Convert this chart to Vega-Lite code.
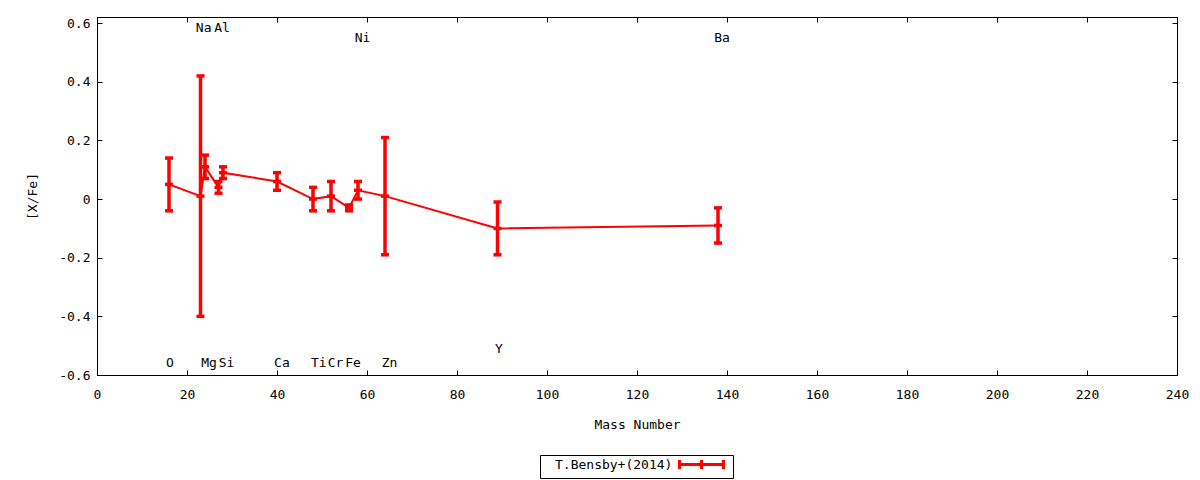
{
  "$schema": "https://vega.github.io/schema/vega-lite/v6.json",
  "width": 1080,
  "height": 358,
  "autosize": "none",
  "padding": {"left": 97, "top": 17, "right": 23, "bottom": 105},
  "background": "white",
  "datasets": {
    "abund": [
      {"el": "O", "mass": 16, "val": 0.05, "lo": -0.04, "hi": 0.14, "series": "T.Bensby+(2014)"},
      {"el": "Na", "mass": 23, "val": 0.01, "lo": -0.40, "hi": 0.42, "series": "T.Bensby+(2014)"},
      {"el": "Mg", "mass": 24, "val": 0.11, "lo": 0.07, "hi": 0.15, "series": "T.Bensby+(2014)"},
      {"el": "Al", "mass": 27, "val": 0.04, "lo": 0.02, "hi": 0.06, "series": "T.Bensby+(2014)"},
      {"el": "Si", "mass": 28, "val": 0.09, "lo": 0.07, "hi": 0.11, "series": "T.Bensby+(2014)"},
      {"el": "Ca", "mass": 40, "val": 0.06, "lo": 0.03, "hi": 0.09, "series": "T.Bensby+(2014)"},
      {"el": "Ti", "mass": 48, "val": 0.00, "lo": -0.04, "hi": 0.04, "series": "T.Bensby+(2014)"},
      {"el": "Cr", "mass": 52, "val": 0.01, "lo": -0.04, "hi": 0.06, "series": "T.Bensby+(2014)"},
      {"el": "Fe", "mass": 56, "val": -0.03, "lo": -0.04, "hi": -0.02, "series": "T.Bensby+(2014)"},
      {"el": "Ni", "mass": 58, "val": 0.03, "lo": 0.00, "hi": 0.06, "series": "T.Bensby+(2014)"},
      {"el": "Zn", "mass": 64, "val": 0.01, "lo": -0.19, "hi": 0.21, "series": "T.Bensby+(2014)"},
      {"el": "Y", "mass": 89, "val": -0.10, "lo": -0.19, "hi": -0.01, "series": "T.Bensby+(2014)"},
      {"el": "Ba", "mass": 138, "val": -0.09, "lo": -0.15, "hi": -0.03, "series": "T.Bensby+(2014)"}
    ],
    "names": [
      {"el": "O", "lx": 16.2, "ly": -0.56},
      {"el": "Na", "lx": 23.7, "ly": 0.585},
      {"el": "Mg", "lx": 24.9, "ly": -0.56},
      {"el": "Al", "lx": 27.8, "ly": 0.585},
      {"el": "Si", "lx": 28.8, "ly": -0.56},
      {"el": "Ca", "lx": 41.1, "ly": -0.56},
      {"el": "Ti", "lx": 49.3, "ly": -0.56},
      {"el": "Cr", "lx": 53.0, "ly": -0.56},
      {"el": "Fe", "lx": 56.9, "ly": -0.56},
      {"el": "Ni", "lx": 59.0, "ly": 0.55},
      {"el": "Zn", "lx": 65.0, "ly": -0.56},
      {"el": "Y", "lx": 89.3, "ly": -0.51},
      {"el": "Ba", "lx": 138.9, "ly": 0.55}
    ]
  },
  "layer": [
    {
      "data": {"name": "abund"},
      "mark": {"type": "line", "strokeWidth": 2, "clip": true},
      "encoding": {
        "x": {
          "field": "mass", "type": "quantitative",
          "scale": {"domain": [0, 240], "nice": false, "zero": false},
          "axis": {
            "orient": "bottom", "title": "Mass Number",
            "values": [0, 20, 40, 60, 80, 100, 120, 140, 160, 180, 200, 220, 240],
            "tickSize": -5, "labelPadding": 18, "titlePadding": 17, "labelFlush": false
          }
        },
        "y": {
          "field": "val", "type": "quantitative",
          "scale": {"domain": [-0.6, 0.621], "nice": false, "zero": false},
          "axis": {
            "orient": "left", "title": "[X/Fe]",
            "values": [-0.6, -0.4, -0.2, 0, 0.2, 0.4, 0.6],
            "format": ".1~f", "tickSize": -5, "labelPadding": 12, "titlePadding": 19, "labelFlush": false
          }
        },
        "stroke": {
          "field": "series", "type": "nominal",
          "scale": {"range": ["#ff0000"]},
          "legend": {
            "title": null, "orient": "none", "legendX": 443, "legendY": 438,
            "symbolType": "M-4.4,0H4.4M-4.4,-0.9V0.9M0,-0.9V0.9M4.4,-0.9V0.9",
            "symbolSize": 100, "symbolStrokeWidth": 3, "symbolStrokeColor": "#ff0000",
            "symbolOffset": 152, "labelOffset": -153,
            "strokeColor": "black", "padding": 3,
            "labelFont": "DejaVu Sans Mono", "labelFontSize": 13, "labelColor": "black"
          }
        }
      }
    },
    {
      "encoding": {
        "x": {"field": "mass", "type": "quantitative", "axis": {"orient": "top", "labels": false, "title": null, "tickSize": -5, "domain": false, "values": [0, 20, 40, 60, 80, 100, 120, 140, 160, 180, 200, 220, 240]}}
      },
      "layer": [
        {
          "data": {"name": "abund"},
          "mark": {"type": "rule", "color": "#ff0000", "strokeWidth": 3.5, "opacity": 1},
          "encoding": {
            "y": {"field": "lo", "type": "quantitative", "axis": {"orient": "right", "labels": false, "title": null, "tickSize": -5, "domain": false, "values": [-0.6, -0.4, -0.2, 0, 0.2, 0.4, 0.6]}},
            "y2": {"field": "hi"}
          }
        },
        {
          "data": {"name": "abund"},
          "mark": {"type": "tick", "color": "#ff0000", "orient": "horizontal", "size": 8, "thickness": 3.5, "opacity": 1},
          "encoding": {
            "y": {"field": "lo", "type": "quantitative", "axis": {"orient": "right", "labels": false, "title": null, "tickSize": -5, "domain": false, "values": [-0.6, -0.4, -0.2, 0, 0.2, 0.4, 0.6]}}
          }
        },
        {
          "data": {"name": "abund"},
          "mark": {"type": "tick", "color": "#ff0000", "orient": "horizontal", "size": 8, "thickness": 3.5, "opacity": 1},
          "encoding": {
            "y": {"field": "hi", "type": "quantitative", "axis": {"orient": "right", "labels": false, "title": null, "tickSize": -5, "domain": false, "values": [-0.6, -0.4, -0.2, 0, 0.2, 0.4, 0.6]}}
          }
        },
        {
          "data": {"name": "abund"},
          "mark": {"type": "tick", "color": "#ff0000", "orient": "horizontal", "size": 8, "thickness": 3.5, "opacity": 1},
          "encoding": {
            "y": {"field": "val", "type": "quantitative", "axis": {"orient": "right", "labels": false, "title": null, "tickSize": -5, "domain": false, "values": [-0.6, -0.4, -0.2, 0, 0.2, 0.4, 0.6]}}
          }
        },
        {
          "data": {"name": "names"},
          "mark": {"type": "text", "font": "DejaVu Sans Mono", "fontSize": 13, "color": "black", "align": "center", "baseline": "middle"},
          "encoding": {
            "x": {"field": "lx", "type": "quantitative", "axis": {"orient": "top", "labels": false, "title": null, "tickSize": -5, "domain": false, "values": [0, 20, 40, 60, 80, 100, 120, 140, 160, 180, 200, 220, 240]}},
            "y": {"field": "ly", "type": "quantitative", "axis": {"orient": "right", "labels": false, "title": null, "tickSize": -5, "domain": false, "values": [-0.6, -0.4, -0.2, 0, 0.2, 0.4, 0.6]}},
            "text": {"field": "el"}
          }
        }
      ]
    }
  ],
  "resolve": {"axis": {"x": "independent", "y": "independent"}},
  "config": {
    "locale": {"number": {"decimal": ".", "thousands": ",", "grouping": [3], "currency": ["$", ""], "minus": "-"}},
    "view": {"stroke": "black", "strokeWidth": 1},
    "axis": {
      "grid": false, "domainColor": "black", "tickColor": "black", "domainWidth": 1, "tickWidth": 1,
      "labelFont": "DejaVu Sans Mono", "labelFontSize": 13, "labelColor": "black",
      "titleFont": "DejaVu Sans Mono", "titleFontSize": 13, "titleFontWeight": "normal", "titleColor": "black"
    }
  }
}
